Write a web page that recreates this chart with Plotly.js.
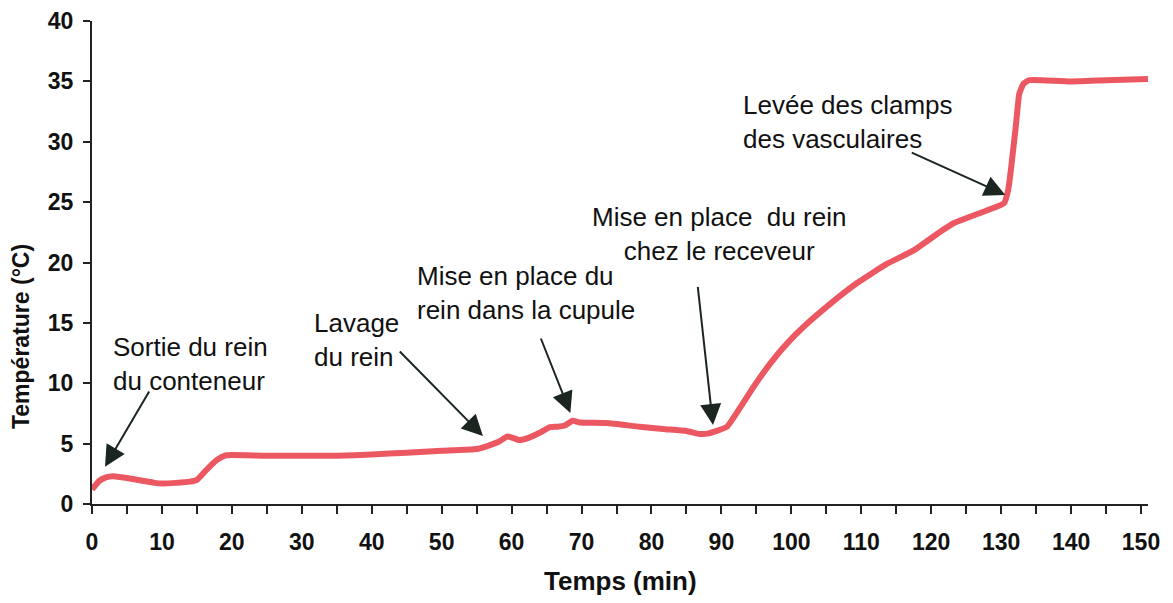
<!DOCTYPE html>
<html>
<head>
<meta charset="utf-8">
<script src="https://cdn.plot.ly/plotly-3.0.1.min.js"></script>
<style>html,body{margin:0;padding:0;background:#fff;}#chart{width:1173px;height:603px;}</style>
</head>
<body>
<div id="chart"></div>
<script>
// Temps (min)
var timeMin = [0, 1, 2, 3, 5, 7, 9, 10, 12, 14, 15, 16, 17, 18, 19, 20, 25, 30, 35, 40, 45, 50, 55, 56.5, 58.3, 59.4, 60.3, 61.1, 62.5, 64, 65.4, 66.5, 67.6, 68.7, 69.7, 73.6, 78.3, 82, 85, 86.9, 88.2, 89.3, 90.8, 92.7, 94.6, 97.0, 99.4, 101.8, 105.6, 109.4, 113.7, 117.5, 121.3, 123.2, 127.0, 130.4, 131, 131.4, 132.1, 132.6, 133.2, 134, 136, 140, 145, 151];
// Température (°C)
var tempC = [1.2, 1.9, 2.2, 2.3, 2.15, 1.95, 1.75, 1.7, 1.75, 1.85, 2.0, 2.6, 3.2, 3.7, 4.0, 4.05, 4.0, 4.0, 4.0, 4.1, 4.25, 4.4, 4.55, 4.8, 5.2, 5.6, 5.45, 5.3, 5.5, 5.9, 6.35, 6.4, 6.5, 6.9, 6.75, 6.7, 6.4, 6.2, 6.05, 5.8, 5.85, 6.05, 6.4, 8.0, 9.7, 11.65, 13.3, 14.7, 16.6, 18.3, 19.9, 21.0, 22.55, 23.25, 24.1, 24.9, 26.0, 27.7, 31.3, 34.0, 34.8, 35.1, 35.1, 35.0, 35.1, 35.2];

// Annotations: label text, text anchor (data coords), arrow tip and tail (data coords)
var labelTexts = ["Sortie du rein<br>du conteneur", "Lavage<br>du rein", "Mise en place du<br>rein dans la cupule", "Mise en place\u00a0 du rein<br>chez le receveur", "Levée des clamps<br>des vasculaires"];
var labelX = [2.7, 31.5, 46.2, 89.6, 92.8];
var labelY = [11.6, 13.58, 17.49, 22.39, 31.6];
var labelAnchor = ["left", "left", "left", "center", "left"];
var tipX = [1.86, 55.9, 68.4, 88.8, 130.6];
var tipY = [3.09, 5.63, 7.54, 6.54, 25.6];
var tailX = [8.3, 43.8, 64.1, 86.6, 117.0];
var tailY = [9.44, 12.75, 13.83, 18.1, 29.15];

var xTickVals = [0, 10, 20, 30, 40, 50, 60, 70, 80, 90, 100, 110, 120, 130, 140, 150];
var yTickVals = [0, 5, 10, 15, 20, 25, 30, 35, 40];

var fontFam = '"Liberation Sans", Arial, sans-serif';
var annotations = [];
for (var i = 0; i < labelTexts.length; i++) {
  annotations.push({
    x: labelX[i], y: labelY[i], xref: 'x', yref: 'y',
    text: labelTexts[i], showarrow: false,
    xanchor: labelAnchor[i], yanchor: 'middle', align: labelAnchor[i],
    font: {family: fontFam, size: 26, color: '#111'}
  });
  annotations.push({
    x: tipX[i], y: tipY[i], xref: 'x', yref: 'y',
    ax: tailX[i], ay: tailY[i], axref: 'x', ayref: 'y',
    text: '', showarrow: true, arrowhead: 2, arrowsize: 2.1, arrowwidth: 2,
    arrowcolor: '#1c2621', standoff: 0
  });
}
annotations.push({
  text: '<b>Température (°C)</b>', xref: 'paper', yref: 'paper',
  x: -0.0672, y: 0.3458, xanchor: 'center', yanchor: 'middle',
  textangle: -90, showarrow: false,
  font: {family: fontFam, size: 23, color: '#111'}
});
annotations.push({
  text: '<b>Temps (min)</b>', xref: 'paper', yref: 'paper',
  x: 0.5, y: -0.159, xanchor: 'center', yanchor: 'middle',
  showarrow: false,
  font: {family: fontFam, size: 26, color: '#111'}
});

var trace = {
  x: timeMin, y: tempC, type: 'scatter', mode: 'lines',
  line: {color: 'rgb(236,88,98)', width: 6, shape: 'spline', smoothing: 0.4},
  hoverinfo: 'x+y'
};

var layout = {
  width: 1173, height: 603,
  margin: {l: 92, r: 25, t: 21, b: 99},
  paper_bgcolor: '#fff', plot_bgcolor: '#fff',
  showlegend: false,
  font: {family: fontFam, color: '#111'},
  xaxis: {
    range: [0, 151], tickvals: xTickVals, ticktext: xTickVals.map(String),
    ticks: 'outside', ticklen: 8, tickwidth: 2, tickcolor: '#222',
    minor: {dtick: 5, ticks: 'outside', ticklen: 8, tickwidth: 2, tickcolor: '#222'},
    showline: true, linecolor: '#222', linewidth: 2,
    showgrid: false, zeroline: false, ticklabelstandoff: 8,
    tickfont: {family: fontFam, size: 23, color: '#111', weight: 'bold'}
  },
  yaxis: {
    range: [0, 40], tickvals: yTickVals, ticktext: yTickVals.map(String),
    ticks: 'outside', ticklen: 7, tickwidth: 2, tickcolor: '#222',
    showline: true, linecolor: '#222', linewidth: 2,
    showgrid: false, zeroline: false, ticklabelstandoff: 5,
    tickfont: {family: fontFam, size: 23, color: '#111', weight: 'bold'}
  },
  annotations: annotations
};

Plotly.newPlot('chart', [trace], layout, {displayModeBar: false, staticPlot: true});
</script>
</body>
</html>
